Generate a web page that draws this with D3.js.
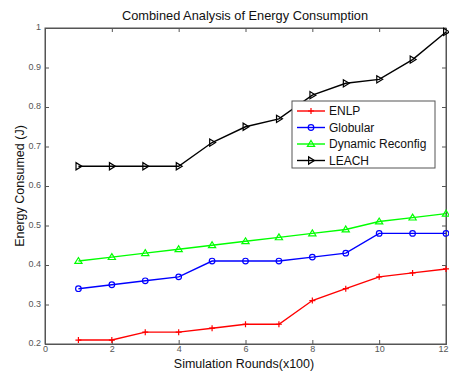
<!DOCTYPE html>
<html>
<head>
<meta charset="utf-8">
<script src="https://cdn.jsdelivr.net/npm/d3@7"></script>
<style>
  html, body { margin: 0; padding: 0; background: #fff; }
  svg { display: block; font-family: "Liberation Sans", Arial, sans-serif; }
</style>
</head>
<body>
<div id="chart"></div>
<script>
// Simulation rounds (x100)
const rounds = [1, 2, 3, 4, 5, 6, 7, 8, 9, 10, 11, 12];

// Energy consumed (J) per protocol
const enlp     = [0.21, 0.21, 0.23, 0.23, 0.24, 0.25, 0.25, 0.31, 0.34, 0.37, 0.38, 0.39];
const globular = [0.34, 0.35, 0.36, 0.37, 0.41, 0.41, 0.41, 0.42, 0.43, 0.48, 0.48, 0.48];
const dynamic  = [0.41, 0.42, 0.43, 0.44, 0.45, 0.46, 0.47, 0.48, 0.49, 0.51, 0.52, 0.53];
const leach    = [0.65, 0.65, 0.65, 0.65, 0.71, 0.75, 0.77, 0.83, 0.86, 0.87, 0.92, 0.99];

const xTicks = [0, 2, 4, 6, 8, 10, 12];
const yTicks = [0.2, 0.3, 0.4, 0.5, 0.6, 0.7, 0.8, 0.9, 1];

const series = [
  { name: "ENLP", values: enlp, color: "#ff0000", marker: "plus" },
  { name: "Globular", values: globular, color: "#0000ff", marker: "circle" },
  { name: "Dynamic Reconfig", values: dynamic, color: "#00ff00", marker: "triUp" },
  { name: "LEACH", values: leach, color: "#000000", marker: "triRight" }
];

const W = 449, H = 373;
const plotL = 45, plotR = 446, plotT = 28, plotB = 344;

const svg = d3.select("#chart").append("svg").attr("width", W).attr("height", H);

const x = d3.scaleLinear().domain([0, 12]).range([plotL, plotR]);
const y = d3.scaleLinear().domain([0.2, 1]).range([plotB, plotT]);

// Axes box
svg.append("rect")
  .attr("x", plotL).attr("y", plotT)
  .attr("width", plotR - plotL).attr("height", plotB - plotT)
  .attr("fill", "#fff").attr("stroke", "#555").attr("stroke-width", 1);

const tickLen = 4;
const axisColor = "#555";
const labelColor = "#555";

// Axes on all four sides with inward ticks
const xb = svg.append("g").attr("transform", `translate(0,${plotB})`)
  .call(d3.axisBottom(x).tickValues(xTicks).tickSize(-tickLen).tickPadding(2).tickFormat(d3.format("d")));
const xt = svg.append("g").attr("transform", `translate(0,${plotT})`)
  .call(d3.axisTop(x).tickValues(xTicks).tickSize(-tickLen).tickFormat(""));
const yl = svg.append("g").attr("transform", `translate(${plotL},0)`)
  .call(d3.axisLeft(y).tickValues(yTicks).tickSize(-tickLen).tickPadding(4).tickFormat(d => d === 1 ? "1" : d3.format(".1f")(d)));
const yr = svg.append("g").attr("transform", `translate(${plotR},0)`)
  .call(d3.axisRight(y).tickValues(yTicks).tickSize(-tickLen).tickFormat(""));

[xb, xt, yl, yr].forEach(g => {
  g.select(".domain").attr("stroke", axisColor);
  g.selectAll(".tick line").attr("stroke", axisColor);
  g.selectAll(".tick text").attr("fill", labelColor).style("font-size", "9px")
    .style("font-family", "\"Liberation Sans\", Arial, sans-serif");
});
yl.selectAll(".tick text").attr("dy", "0.2em");
// keep the last x label inside the window
xb.selectAll(".tick text").filter(d => d === 12).attr("text-anchor", "end").attr("dx", "2px");

// Title and axis labels
svg.append("text").attr("x", 245).attr("y", 20)
  .attr("text-anchor", "middle").style("font-size", "12.8px").attr("fill", "#111")
  .text("Combined Analysis of Energy Consumption");
svg.append("text").attr("x", 244).attr("y", 368)
  .attr("text-anchor", "middle").style("font-size", "12.5px").attr("fill", "#111")
  .text("Simulation Rounds(x100)");
svg.append("text")
  .attr("transform", `translate(24,${(plotT + plotB) / 2}) rotate(-90)`)
  .attr("text-anchor", "middle").style("font-size", "12.5px").attr("fill", "#111")
  .text("Energy Consumed (J)");

// Marker drawing
function drawMarker(g, type, cx, cy, color) {
  const s = 3;
  if (type === "plus") {
    g.append("path").attr("d", `M${cx - s},${cy}H${cx + s}M${cx},${cy - s}V${cy + s}`)
      .attr("stroke", color).attr("stroke-width", 1.2).attr("fill", "none");
  } else if (type === "circle") {
    g.append("circle").attr("cx", cx).attr("cy", cy).attr("r", 2.8)
      .attr("stroke", color).attr("stroke-width", 1.2).attr("fill", "none");
  } else if (type === "triUp") {
    g.append("path").attr("d", `M${cx},${cy - 3.5}L${cx + 3.6},${cy + 2.4}L${cx - 3.6},${cy + 2.4}Z`)
      .attr("stroke", color).attr("stroke-width", 1.2).attr("fill", "none");
  } else if (type === "triRight") {
    g.append("path").attr("d", `M${cx + 3.5},${cy}L${cx - 2.4},${cy - 3.6}L${cx - 2.4},${cy + 3.6}Z`)
      .attr("stroke", color).attr("stroke-width", 1.2).attr("fill", "none");
  }
}

const line = d3.line().x((d, i) => x(rounds[i])).y(d => y(d));

series.forEach(s => {
  const g = svg.append("g");
  g.append("path").datum(s.values).attr("d", line)
    .attr("fill", "none").attr("stroke", s.color).attr("stroke-width", 1.4);
  s.values.forEach((v, i) => drawMarker(g, s.marker, x(rounds[i]), y(v), s.color));
});

// Legend
const lx = 292, ly = 101, lw = 143, lh = 67;
const lg = svg.append("g");
lg.append("rect").attr("x", lx).attr("y", ly).attr("width", lw).attr("height", lh)
  .attr("fill", "#fff").attr("stroke", "#555").attr("stroke-width", 1);
series.forEach((s, i) => {
  const yy = ly + 10 + i * 16.5;
  lg.append("line").attr("x1", lx + 5).attr("x2", lx + 33).attr("y1", yy).attr("y2", yy)
    .attr("stroke", s.color).attr("stroke-width", 1.4);
  drawMarker(lg, s.marker, lx + 19, yy, s.color);
  lg.append("text").attr("x", lx + 37).attr("y", yy).attr("dy", "0.35em")
    .style("font-size", "12px").attr("fill", "#111").text(s.name);
});
</script>
</body>
</html>
